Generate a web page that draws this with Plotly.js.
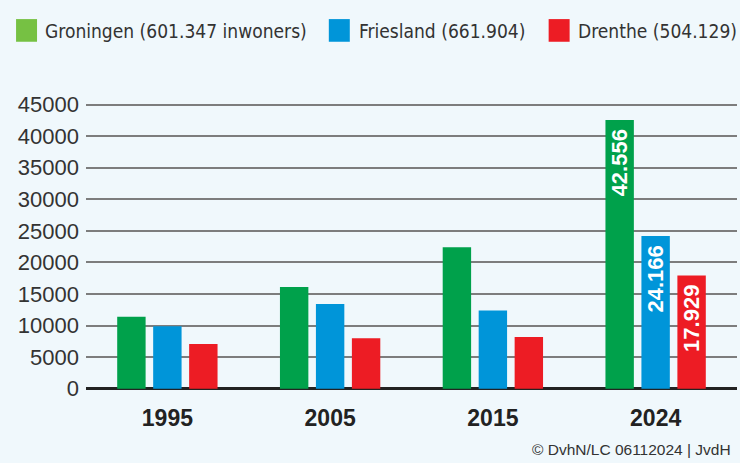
<!DOCTYPE html>
<html>
<head>
<meta charset="utf-8">
<script src="https://cdn.plot.ly/plotly-3.0.1.min.js"></script>
<style>
html,body{margin:0;padding:0;background:#f0f8fc;}
#chart{width:740px;height:463px;}
</style>
</head>
<body>
<div id="chart"></div>
<script>
// ---- data ----
const years = ['1995', '2005', '2015', '2024'];
const groningen = [11400, 16100, 22400, 42556];
const friesland = [9900, 13400, 12400, 24166];
const drenthe = [7100, 8000, 8200, 17929];
const seriesNames = ['Groningen (601.347 inwoners)', 'Friesland (661.904)', 'Drenthe (504.129)'];
const yTicks = [0, 5000, 10000, 15000, 20000, 25000, 30000, 35000, 40000, 45000];
const credit = '© DvhN/LC 06112024 | JvdH';

// ---- styles ----
const barColors = ['#00a14b', '#0095d9', '#ed1c24'];
const legendColors = ['#76c143', '#0095d9', '#ed1c24'];
const bg = '#f0f8fc';

function nl(v) { return String(v).replace(/\B(?=(\d{3})+(?!\d))/g, '.'); }
function labelsFor(arr) { return arr.map((v, i) => i === arr.length - 1 ? nl(v) + '\u00a0' : ''); }

// pick a narrow font for the legend and fit it to the reference width
const cv = document.createElement('canvas').getContext('2d');
function w(font, s) { cv.font = font; return cv.measureText(s).width; }
const cands = ['Liberation Sans Narrow', 'DejaVu Sans Condensed', 'Liberation Sans'];
let legFam = 'Liberation Sans';
for (const f of cands) {
  const a = w('100px "' + f + '", monospace', seriesNames[0]);
  const b = w('100px monospace', seriesNames[0]);
  if (Math.abs(a - b) > 1) { legFam = f; break; }
}
const legW100 = w('100px "' + legFam + '"', seriesNames[0]);
const legSize = Math.min(22, 262 / legW100 * 100);

const allSeries = [groningen, friesland, drenthe];
const traces = allSeries.map((vals, k) => ({
  type: 'bar',
  x: years,
  y: vals,
  name: seriesNames[k],
  marker: {color: barColors[k], line: {width: 0}},
  text: labelsFor(vals),
  textposition: 'inside',
  insidetextanchor: 'end',
  textangle: -90,
  textfont: {family: 'Liberation Sans', size: 22, color: '#ffffff', weight: 700},
  constraintext: 'none',
  cliponaxis: false,
  showlegend: false,
  hoverinfo: 'skip'
}));

// pixel geometry for legend placement
const W = 740, H = 463;
const M = {l: 86, r: 2.5, t: 102, b: 72.7};
const pw = W - M.l - M.r, ph = H - M.t - M.b;
const px = x => (x - M.l) / pw;
const py = y => (H - M.b - y) / ph;

const legendItems = [
  {sq: [16, 37], tx: 43},
  {sq: [329, 350], tx: 357},
  {sq: [549, 570], tx: 576}
];
const shapes = legendItems.map((it, k) => ({
  type: 'rect', xref: 'paper', yref: 'paper',
  x0: px(it.sq[0]), x1: px(it.sq[1]), y0: py(41.7), y1: py(19),
  fillcolor: legendColors[k], line: {width: 0}
}));
const annotations = legendItems.map((it, k) => ({
  xref: 'paper', yref: 'paper', x: px(it.tx), y: py(30.5),
  xanchor: 'left', yanchor: 'middle', showarrow: false,
  text: seriesNames[k],
  font: {family: legFam, size: legSize, color: '#333333'}
}));
annotations.push({
  xref: 'paper', yref: 'paper', x: px(733), y: py(449.5),
  xanchor: 'right', yanchor: 'middle', showarrow: false,
  text: credit,
  font: {family: 'Liberation Sans', size: 15.5, color: '#333333'}
});

const layout = {
  width: W, height: H,
  margin: M,
  paper_bgcolor: bg, plot_bgcolor: bg,
  barmode: 'group',
  bargap: 0.337,
  bargroupgap: 0.21,
  showlegend: false,
  xaxis: {
    type: 'category',
    range: [-0.5, 3.5],
    showgrid: false, showline: false, zeroline: false,
    ticks: 'outside', ticklen: 7, tickcolor: 'rgba(0,0,0,0)',
    tickfont: {family: 'Liberation Sans', size: 23, color: '#222222', weight: 700},
    fixedrange: true
  },
  yaxis: {
    range: [-200, 45400],
    tickvals: yTicks,
    ticktext: yTicks.map(v => String(v) + '\u00a0'),
    showgrid: true, gridcolor: '#7d7d7d', gridwidth: 2,
    zeroline: true, zerolinecolor: '#222222', zerolinewidth: 2.5,
    showline: false,
    ticks: '',
    tickfont: {family: 'Liberation Sans', size: 22, color: '#333333'},
    fixedrange: true
  },
  shapes: shapes,
  annotations: annotations
};

Plotly.newPlot('chart', traces, layout, {displayModeBar: false, staticPlot: true});
</script>
</body>
</html>
